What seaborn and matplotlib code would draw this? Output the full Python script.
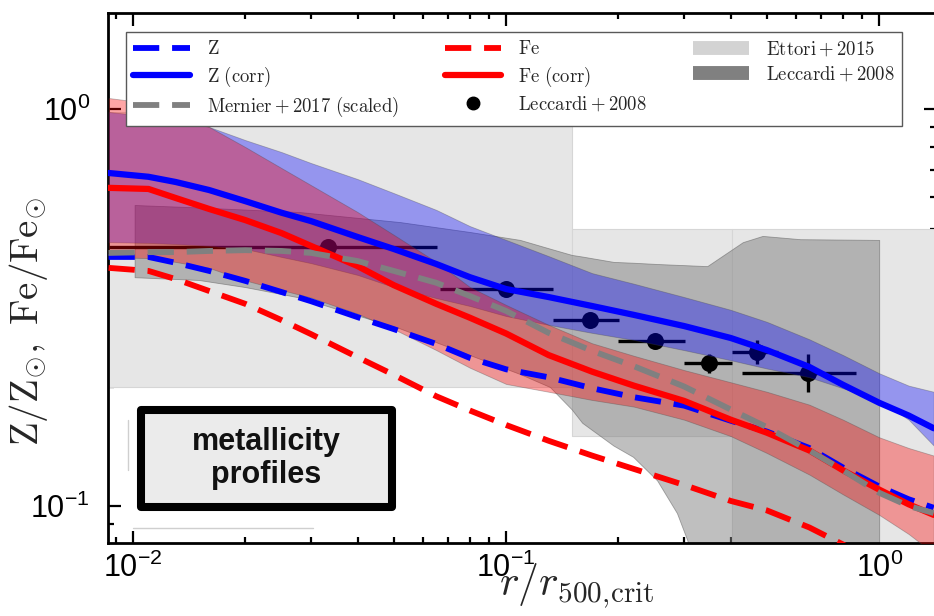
import numpy as np
import pandas as pd
import seaborn as sns
import matplotlib
matplotlib.use("Agg")
import matplotlib.pyplot as plt
from matplotlib.lines import Line2D
from matplotlib.patches import FancyBboxPatch
from matplotlib.ticker import LogLocator, NullFormatter, FuncFormatter

# ---------------- data ----------------
r = [0.0086, 0.011, 0.013, 0.016, 0.02, 0.025, 0.03, 0.04, 0.05, 0.065, 0.08, 0.1,
     0.13, 0.17, 0.22, 0.3, 0.4, 0.5, 0.65, 0.8, 1.0, 1.2, 1.4]

z_corr = [0.690, 0.675, 0.655, 0.625, 0.586, 0.548, 0.522, 0.476, 0.444, 0.407, 0.377, 0.352,
          0.336, 0.319, 0.303, 0.284, 0.265, 0.247, 0.224, 0.202, 0.182, 0.169, 0.157]
z_plain = [0.424, 0.424, 0.410, 0.391, 0.369, 0.346, 0.328, 0.299, 0.279, 0.256, 0.236, 0.221,
           0.211, 0.198, 0.188, 0.179, 0.164, 0.154, 0.140, 0.125, 0.112, 0.104, 0.099]
fe_corr = [0.633, 0.629, 0.597, 0.560, 0.525, 0.487, 0.452, 0.402, 0.360, 0.323, 0.298, 0.272,
           0.240, 0.218, 0.201, 0.184, 0.165, 0.153, 0.138, 0.123, 0.110, 0.101, 0.095]
fe_plain = [0.398, 0.391, 0.373, 0.348, 0.323, 0.294, 0.271, 0.237, 0.214, 0.189, 0.174, 0.160,
            0.146, 0.134, 0.124, 0.113, 0.103, 0.0975, 0.0883, 0.080, 0.071, 0.065, 0.060]
mernier = [0.434, 0.436, 0.436, 0.439, 0.441, 0.439, 0.434, 0.414, 0.391, 0.365, 0.338, 0.310,
           0.273, 0.246, 0.225, 0.200, 0.175, 0.158, 0.138, 0.123, 0.108, 0.100, 0.096]

z_band_hi = [0.983, 0.960, 0.949, 0.901, 0.835, 0.779, 0.731, 0.666, 0.614, 0.557, 0.507, 0.468,
             0.426, 0.386, 0.363, 0.336, 0.312, 0.291, 0.263, 0.240, 0.216, 0.201, 0.194]
z_band_lo = [0.462, 0.460, 0.457, 0.452, 0.444, 0.424, 0.409, 0.382, 0.356, 0.334, 0.319, 0.301,
             0.286, 0.273, 0.262, 0.247, 0.233, 0.222, 0.211, 0.198, 0.185, 0.165, 0.142]
fe_band_hi = [1.066, 1.035, 0.983, 0.901, 0.802, 0.710, 0.643, 0.550, 0.482, 0.412, 0.356, 0.321,
              0.286, 0.257, 0.239, 0.220, 0.205, 0.194, 0.180, 0.165, 0.149, 0.140, 0.134]
fe_band_lo = [0.424, 0.421, 0.412, 0.398, 0.370, 0.350, 0.335, 0.305, 0.279, 0.247, 0.223, 0.203,
              0.194, 0.185, 0.178, 0.165, 0.150, 0.136, 0.120, 0.107, 0.095, 0.085, 0.076]

# Leccardi+2008 scatter band
lec_band_r = [0.0101, 0.015, 0.02, 0.028, 0.052, 0.08, 0.109, 0.131, 0.15, 0.16, 0.194, 0.219,
              0.254, 0.287, 0.306, 0.346, 0.431, 0.487, 0.614, 1.0]
lec_band_hi = [0.573, 0.565, 0.558, 0.550, 0.519, 0.490, 0.468, 0.445, 0.429, 0.425, 0.412, 0.410,
               0.407, 0.405, 0.404, 0.402, 0.462, 0.479, 0.470, 0.468]
lec_band_lo = [0.377, 0.371, 0.356, 0.335, 0.280, 0.240, 0.215, 0.1995, 0.175, 0.162, 0.142, 0.133,
               0.116, 0.096, 0.082, 0.05, 0.05, 0.05, 0.05, 0.05]

# Ettori+2015 step regions
ett_r_lo = [0.004, 0.15, 0.404]
ett_r_hi = [0.15, 0.404, 3.0]
ett_lo = [0.2, 0.15, 0.05]
ett_hi = [0.98, 0.5, 0.5]

# Leccardi+2008 data points
lec_r = [0.0333, 0.1, 0.168, 0.251, 0.35, 0.471, 0.645]
lec_r_lo = [0.001, 0.0667, 0.1333, 0.2, 0.3, 0.404, 0.43]
lec_r_hi = [0.0653, 0.1336, 0.201, 0.302, 0.404, 0.536, 0.868]
lec_z = [0.449, 0.352, 0.294, 0.260, 0.229, 0.244, 0.216]
lec_z_lo = [0.446, 0.345, 0.287, 0.253, 0.216, 0.228, 0.194]
lec_z_hi = [0.452, 0.359, 0.301, 0.267, 0.241, 0.262, 0.241]

# ---------------- style ----------------
sns.set_style("ticks")
plt.rcParams["font.family"] = ["Liberation Sans", "DejaVu Sans"]
plt.rcParams["mathtext.fontset"] = "cm"

fig = plt.figure(figsize=(9.34, 6.16), dpi=100)
ax = fig.add_axes([108 / 934, (616 - 543) / 616, (936 - 108) / 934, (543 - 13) / 616])
ax.set_xscale("log")
ax.set_yscale("log")
ax.set_xlim(0.00857, 1.42)
ax.set_ylim(0.0807, 1.745)

df = pd.DataFrame(dict(r=r, z_corr=z_corr, z=z_plain, fe_corr=fe_corr, fe=fe_plain, mernier=mernier,
                       zhi=z_band_hi, zlo=z_band_lo, fehi=fe_band_hi, felo=fe_band_lo))

# Ettori regions
for xl, xh, yl, yh in zip(ett_r_lo, ett_r_hi, ett_lo, ett_hi):
    ax.fill_between([xl, xh], [yl, yl], [yh, yh], facecolor="#e6e6e6", edgecolor="#d6d6d6",
                    lw=0.8, zorder=1)

# Leccardi band
ax.fill_between(lec_band_r, lec_band_lo, lec_band_hi, facecolor="gray", alpha=0.5,
                edgecolor="#555555", lw=0.6, zorder=2)

# Leccardi points
lec_r_a = np.array(lec_r); lec_z_a = np.array(lec_z)
xerr = [lec_r_a - np.array(lec_r_lo), np.array(lec_r_hi) - lec_r_a]
yerr = [lec_z_a - np.array(lec_z_lo), np.array(lec_z_hi) - lec_z_a]
ax.errorbar(lec_r, lec_z, xerr=xerr, yerr=yerr, fmt="none", ecolor="black", elinewidth=2.4,
            capsize=0, zorder=3)
sns.scatterplot(x=lec_r, y=lec_z, ax=ax, color="black", s=150, edgecolor="black", linewidth=0,
                zorder=3, legend=False)

# scatter bands of simulated profiles
ax.fill_between(df["r"], df["zlo"], df["zhi"], facecolor="blue", alpha=0.35,
                edgecolor="#444444", lw=0.6, zorder=4)
ax.fill_between(df["r"], df["felo"], df["fehi"], facecolor="red", alpha=0.35,
                edgecolor="#444444", lw=0.6, zorder=4)

dash = (0, (4.5, 2.2))
sns.lineplot(data=df, x="r", y="z", ax=ax, color="blue", lw=4.2, linestyle=dash, zorder=6)
sns.lineplot(data=df, x="r", y="fe", ax=ax, color="red", lw=4.2, linestyle=dash, zorder=6)
sns.lineplot(data=df, x="r", y="mernier", ax=ax, color="gray", lw=4.2, linestyle=dash, zorder=7)
sns.lineplot(data=df, x="r", y="z_corr", ax=ax, color="blue", lw=4.5, zorder=6)
sns.lineplot(data=df, x="r", y="fe_corr", ax=ax, color="red", lw=4.5, zorder=6)

# ---------------- axes styling ----------------
for s in ax.spines.values():
    s.set_linewidth(2.0)
    s.set_color("black")
ax.xaxis.set_major_locator(LogLocator(base=10, subs=(1.0,)))
ax.yaxis.set_major_locator(LogLocator(base=10, subs=(1.0,)))
ax.xaxis.set_minor_locator(LogLocator(base=10, subs=np.arange(2, 10) * 1.0, numticks=20))
ax.yaxis.set_minor_locator(LogLocator(base=10, subs=np.arange(2, 10) * 1.0, numticks=20))
fmt = FuncFormatter(lambda v, p: r"$\mathregular{10^{%d}}$" % int(round(np.log10(v))))
ax.xaxis.set_major_formatter(fmt)
ax.yaxis.set_major_formatter(fmt)
ax.xaxis.set_minor_formatter(NullFormatter())
ax.yaxis.set_minor_formatter(NullFormatter())
ax.tick_params(which="both", direction="in", top=True, right=True, width=1.6, colors="black")
ax.tick_params(which="major", length=9, labelsize=22)
ax.tick_params(which="minor", length=4.5)
ax.tick_params(axis="y", which="major", pad=13)
ax.tick_params(axis="x", which="major", pad=7)

ax.set_xlabel(r"$r/r_{500,\!\mathrm{crit}}$", fontsize=30)
ax.set_ylabel(r"$\mathrm{Z/Z_{\odot},\ Fe/Fe_{\odot}}$", fontsize=28)
ax.xaxis.set_label_coords(0.566, -0.036)
ax.yaxis.set_label_coords(-0.07, 0.418)

# ---------------- legend ----------------
handles = [
    Line2D([], [], color="blue", lw=4.2, linestyle=dash),
    Line2D([], [], color="blue", lw=4.5),
    Line2D([], [], color="gray", lw=4.2, linestyle=dash),
    Line2D([], [], color="red", lw=4.2, linestyle=dash),
    Line2D([], [], color="red", lw=4.5),
    Line2D([], [], color="black", marker="o", ls="none", markersize=9),
    Line2D([], [], color="lightgray", lw=10, solid_capstyle="butt"),
    Line2D([], [], color="gray", lw=10, solid_capstyle="butt"),
]
labels = [r"$\mathrm{Z}$", r"$\mathrm{Z\ (corr)}$", r"$\mathrm{Mernier+2017\ (scaled)}$",
          r"$\mathrm{Fe}$", r"$\mathrm{Fe\ (corr)}$", r"$\mathrm{Leccardi+2008}$",
          r"$\mathrm{Ettori+2015}$", r"$\mathrm{Leccardi+2008}$"]
leg = ax.legend(handles, labels, ncol=3, loc="upper left", mode="expand",
                bbox_to_anchor=(0.0217, 0.5, 0.9372, 0.4642), borderaxespad=0,
                fontsize=13.5, handlelength=3.0, handletextpad=0.9, labelspacing=0.33,
                borderpad=0.4, fancybox=False, framealpha=1, edgecolor="0.35")
leg.get_frame().set_linewidth(1.0)
leg.set_zorder(20)

# ---------------- annotation box ----------------
ax.plot([0.0242, 0.0242], [0.138, 0.232], transform=ax.transAxes, color="#cfcfcf", lw=1.0, zorder=9)
ax.plot([0.030, 0.247], [0.0283, 0.0283], transform=ax.transAxes, color="#cfcfcf", lw=1.0, zorder=9)
box = FancyBboxPatch((0.0399, 0.0679), 0.3031, 0.183, boxstyle="square,pad=0",
                     transform=ax.transAxes, facecolor="#ebebeb", edgecolor="black",
                     lw=5.8, joinstyle="round", zorder=10)
ax.add_patch(box)
ax.text(0.1914, 0.1594, "metallicity\nprofiles", transform=ax.transAxes, ha="center",
        va="center", fontsize=22, fontweight="bold", family="Liberation Sans",
        linespacing=1.1, color="#111111", zorder=11)

fig.savefig("out.png", dpi=100)
